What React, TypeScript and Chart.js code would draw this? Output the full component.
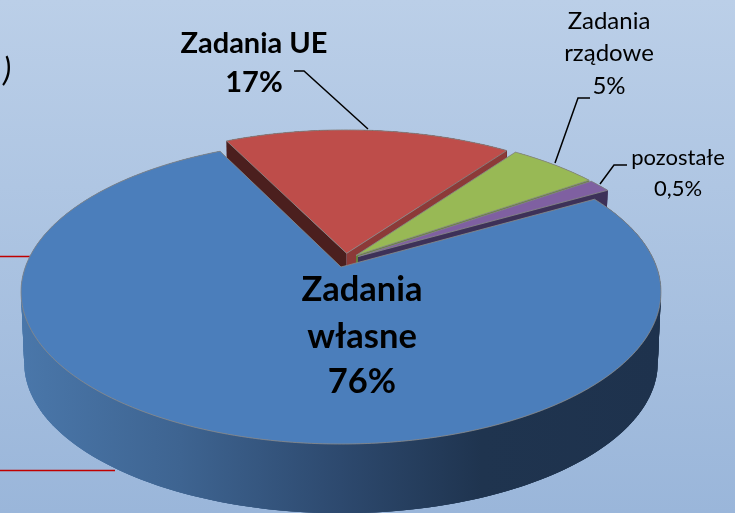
import React, { useEffect, useRef } from "react";
import { Chart, registerables } from "chart.js";

Chart.register(...registerables);

// ---- data ----
const categories = ["Zadania własne", "Zadania UE", "Zadania rządowe", "pozostałe"];
const sliceValues = [76, 17.2, 5.4, 1.4];
const faceColors = ["#4B7EBB", "#BE4D4A", "#98B955", "#7F60A1"];
const startWallColors = ["#2B4569", "#4B1F1E", "#66803A", "#3D3158"];
const endWallColors = ["#2B4569", "#8C3A38", "#66803A", "#3D3158"];

// ---- text ----
const labelLines = [
  ["Zadania", "własne", "76%"],
  ["Zadania UE", "17%"],
  ["Zadania", "rządowe", "5%"],
  ["pozostałe", "0,5%"],
];
const labelXs = [362, 254, 609, 678];
const labelBaselines = [
  [301, 348, 393],
  [53, 92],
  [29, 61, 94],
  [165, 196],
];
const labelFonts = [
  "bold 34.5px Lato",
  "bold 29px Lato",
  "24px Lato",
  "22px Lato",
];

// ---- view of the tilted pie ----
const APEX_X = 341;
const APEX_Y = 267;
const RADIUS_X = 315.6;
const RADIUS_Y = 147.9;
const PERSPECTIVE = 0.1645;
const DEPTH = 71;
const BOTTOM_SCALE = 0.99;
const EXPLODE = 0.048;

type Pt = [number, number];

function project(u: number, v: number, low: boolean): Pt {
  const w = 1 - PERSPECTIVE * v;
  const s = low ? BOTTOM_SCALE : 1;
  return [
    APEX_X + (RADIUS_X * s * u) / w,
    APEX_Y + (RADIUS_Y * s * v) / w + (low ? DEPTH : 0),
  ];
}

function trace(ctx: CanvasRenderingContext2D, pts: Pt[]) {
  ctx.beginPath();
  pts.forEach((p, i) => (i ? ctx.lineTo(p[0], p[1]) : ctx.moveTo(p[0], p[1])));
  ctx.closePath();
}

const tiltedPie = {
  id: "tiltedPie",
  beforeDatasetsDraw(chart: any) {
    const ctx: CanvasRenderingContext2D = chart.ctx;
    const arcs = chart.getDatasetMeta(0).data as any[];
    const mid = (a: any) => (a.startAngle + a.endAngle) / 2;
    const baseU = EXPLODE * Math.cos(mid(arcs[0]));
    const baseV = EXPLODE * Math.sin(mid(arcs[0]));

    const geometry = (a: any, low: boolean) => {
      const ou = EXPLODE * Math.cos(mid(a)) - baseU;
      const ov = EXPLODE * Math.sin(mid(a)) - baseV;
      const steps = Math.ceil((a.endAngle - a.startAngle) / 0.01);
      const rim: Pt[] = [];
      for (let i = 0; i <= steps; i++) {
        const t = a.startAngle + ((a.endAngle - a.startAngle) * i) / steps;
        rim.push(project(ou + Math.cos(t), ov + Math.sin(t), low));
      }
      return { tip: project(ou, ov, low), rim };
    };

    const drawSlice = (i: number) => {
      const a = arcs[i];
      const top = geometry(a, false);
      const low = geometry(a, true);

      let wall: any = startWallColors[i];
      if (i === 0) {
        const g = ctx.createLinearGradient(20, 0, 661, 0);
        g.addColorStop(0, "#4A77AA");
        g.addColorStop(0.25, "#3E6491");
        g.addColorStop(0.5, "#2D496E");
        g.addColorStop(0.72, "#1F344F");
        g.addColorStop(1, "#1E324D");
        wall = g;
      }
      ctx.fillStyle = wall;
      const n = top.rim.length - 1;
      for (let s = 0; s < n; s++) {
        const e = Math.min(s + 3, n);
        trace(ctx, [top.rim[s], top.rim[e], low.rim[e], low.rim[s]]);
        ctx.fill();
      }

      ctx.fillStyle = startWallColors[i];
      trace(ctx, [top.tip, top.rim[0], low.rim[0], low.tip]);
      ctx.fill();

      ctx.fillStyle = endWallColors[i];
      const last = top.rim.length - 1;
      trace(ctx, [top.tip, top.rim[last], low.rim[last], low.tip]);
      ctx.fill();

      trace(ctx, [top.tip, ...top.rim]);
      ctx.fillStyle = a.options.backgroundColor;
      ctx.fill();
      ctx.strokeStyle = "rgba(135,135,135,0.85)";
      ctx.lineWidth = 1;
      ctx.stroke();
    };

    ctx.save();
    // cut-off remains of the slide behind the chart
    ctx.strokeStyle = "#C00000";
    ctx.lineWidth = 1.5;
    ctx.beginPath();
    ctx.moveTo(0, 256.5);
    ctx.lineTo(32, 256.5);
    ctx.moveTo(0, 470.5);
    ctx.lineTo(115, 470.5);
    ctx.stroke();

    drawSlice(1);
    drawSlice(2);
    drawSlice(3);
    drawSlice(0);
    ctx.restore();
    return false;
  },
  afterDraw(chart: any) {
    const ctx: CanvasRenderingContext2D = chart.ctx;
    ctx.save();
    ctx.fillStyle = "#000";
    ctx.textAlign = "center";
    ctx.textBaseline = "alphabetic";
    labelLines.forEach((lines, i) => {
      ctx.font = labelFonts[i];
      lines.forEach((line, j) => ctx.fillText(line, labelXs[i], labelBaselines[i][j]));
    });
    ctx.font = "italic 32px Lato";
    ctx.textAlign = "left";
    ctx.fillText(")", 3, 81);

    ctx.strokeStyle = "#000";
    ctx.lineWidth = 1.5;
    ctx.beginPath();
    ctx.moveTo(294, 71);
    ctx.lineTo(304, 71);
    ctx.lineTo(368, 129);
    ctx.moveTo(590, 98);
    ctx.lineTo(578, 98);
    ctx.lineTo(555, 163);
    ctx.moveTo(627, 165);
    ctx.lineTo(614, 165);
    ctx.lineTo(600, 184);
    ctx.stroke();
    ctx.restore();
  },
};

export default function App() {
  const ref = useRef<HTMLCanvasElement>(null);
  useEffect(() => {
    const chart = new Chart(ref.current as HTMLCanvasElement, {
      type: "pie",
      data: {
        labels: categories,
        datasets: [{ data: sliceValues, backgroundColor: faceColors, borderWidth: 0 }],
      },
      options: {
        animation: false,
        responsive: false,
        rotation: 60.3,
        plugins: { legend: { display: false }, tooltip: { enabled: false } },
      },
      plugins: [tiltedPie],
    } as any);
    return () => chart.destroy();
  }, []);
  return (
    <div
      style={{
        position: "fixed",
        left: 0,
        top: 0,
        width: 735,
        height: 513,
        overflow: "hidden",
        background: "linear-gradient(180deg,#BBCFE8 0%,#9AB6DA 100%)",
      }}
    >
      <canvas ref={ref} width={735} height={513} style={{ display: "block" }} />
    </div>
  );
}
